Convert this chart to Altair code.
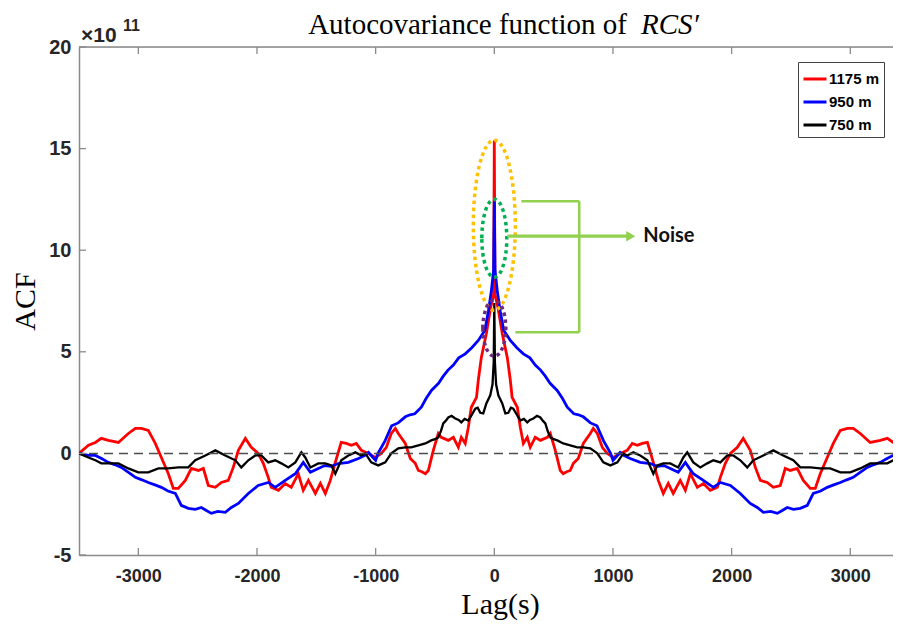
import altair as alt
import pandas as pd

# ---------------- data (positive-lag half; the ACF is symmetric about lag 0) ----------------
SERIES_NAMES = ["1175 m", "950 m", "750 m"]
SERIES_COLORS = ["#ff0000", "#0000ff", "#000000"]

RED_LAG = [0, 6, 30, 67, 110, 135, 150, 194, 219, 245, 278, 303, 345, 388, 447, 472, 514, 556, 581, 610,
           640, 666, 708, 750, 809, 834, 868, 910, 952, 1003, 1062, 1120, 1163, 1205, 1247, 1290, 1340,
           1382, 1424, 1466, 1508, 1567, 1610, 1652, 1711, 1762, 1820, 1880, 1905, 1947, 1990, 2048, 2098,
           2157, 2200, 2242, 2300, 2351, 2410, 2452, 2494, 2553, 2604, 2663, 2705, 2747, 2806, 2857, 2916,
           2975, 3025, 3084, 3168, 3253, 3312, 3362, 3420, 3500]
RED_VAL = [15.4, 7.8, 7.2, 5.9, 4.7, 3.6, 2.76, 2.27, 1.28, 0.49, 0.79, 0.3, 0.79, 0.64, 0.79, 0.98, 0.15,
           -0.84, -1.0, -0.9, -0.84, -0.49, -0.25, 0.49, 0.98, 1.23, 0.98, 0.3, 0.0, -0.2, 0.0, 0.15, 0.49,
           0.4, 0.49, 0.54, -0.44, -1.33, -1.97, -1.48, -1.97, -1.33, -1.82, -1.0, -1.67, -1.48, -1.82,
           -1.67, -1.18, -0.49, 0.0, 0.3, 0.74, 0.15, -0.69, -1.33, -1.43, -1.67, -1.58, -0.74, -0.84, -0.74,
           -1.33, -1.72, -1.72, -1.0, -0.2, 0.49, 1.13, 1.23, 1.23, 0.98, 0.54, 0.64, 0.74, 0.54, 0.4, 0.0]

BLUE_LAG = [0, 6, 25, 50, 80, 135, 190, 245, 300, 345, 390, 430, 470, 530, 575, 615, 670, 710, 750, 810,
            865, 920, 980, 1000, 1030, 1060, 1090, 1145, 1230, 1315, 1373, 1430, 1483, 1550, 1610, 1640,
            1677, 1762, 1846, 1905, 1990, 2073, 2157, 2216, 2267, 2330, 2385, 2430, 2469, 2520, 2579, 2638,
            2688, 2750, 2806, 2860, 2916, 2970, 3025, 3080, 3143, 3200, 3253, 3310, 3362, 3420, 3500]
BLUE_VAL = [12.4, 9.0, 8.0, 7.0, 6.05, 5.56, 5.2, 4.9, 4.7, 4.35, 4.1, 3.8, 3.45, 3.1, 2.7, 2.27, 1.95, 1.9,
            1.8, 1.5, 1.36, 0.63, 0.0, -0.34, -0.15, 0.05, -0.1, -0.25, -0.44, -0.5, -0.64, -0.6, -0.74,
            -0.93, -0.44, -0.7, -1.0, -1.33, -1.67, -1.43, -1.58, -1.97, -2.46, -2.66, -2.9, -2.85, -2.95,
            -2.8, -2.66, -2.75, -2.7, -2.56, -1.97, -1.85, -1.67, -1.55, -1.43, -1.3, -1.18, -0.95, -0.69,
            -0.55, -0.44, -0.25, -0.1, -0.1, 0.0]

BLACK_LAG = [0, 5, 15, 34, 67, 93, 118, 140, 160, 190, 219, 250, 278, 300, 329, 360, 388, 410, 430, 450,
             472, 500, 531, 581, 640, 700, 750, 809, 868, 919, 978, 1037, 1087, 1120, 1171, 1230, 1290, 1340,
             1373, 1424, 1483, 1550, 1593, 1626, 1677, 1736, 1795, 1846, 1905, 1964, 2014, 2073, 2132, 2182,
             2267, 2351, 2435, 2520, 2579, 2663, 2747, 2831, 2916, 3000, 3084, 3168, 3253, 3312, 3362, 3420,
             3500]
BLACK_VAL = [7.4, 4.5, 3.4, 2.86, 2.46, 1.97, 2.0, 2.25, 2.2, 1.9, 1.62, 1.7, 1.53, 1.65, 1.72, 1.85, 1.77,
             1.6, 1.48, 1.1, 0.79, 0.7, 0.64, 0.49, 0.4, 0.3, 0.3, 0.25, 0.0, -0.44, -0.59, -0.44, 0.0, -0.1,
             0.05, -0.1, -0.34, -1.0, -0.59, -0.49, -0.49, -0.69, -0.2, 0.05, -0.44, -0.69, -0.49, -0.34,
             -0.44, -0.1, -0.1, -0.34, -0.69, -0.34, -0.1, 0.15, -0.1, -0.34, -0.69, -0.69, -0.74, -0.74,
             -0.93, -0.93, -0.74, -0.49, -0.49, -0.49, -0.34, -0.2, 0.0]

X_TICKS = [-3000, -2000, -1000, 0, 1000, 2000, 3000]
Y_TICKS = [-5, 0, 5, 10, 15, 20]
X_DOMAIN = [-3500, 3360]
Y_DOMAIN = [-5, 20]

TITLE_MAIN = "Autocovariance function of"
TITLE_ITALIC = "RCS\u2032"
X_TITLE = "Lag(s)"
Y_TITLE = "ACF"
EXP_BASE = "\u00d710"
EXP_POWER = "11"

# annotation geometry (in data units)
ELLIPSE_CENTER_VAL = [11.23, 10.59, 6.16]
ELLIPSE_COLORS = ["#ffc000", "#00b050", "#6a2c82"]
BRACKET_LAG = [228, 177, 716, 110]
BRACKET_LAG2 = [716, 716, 716, 1140]
BRACKET_VAL = [12.41, 5.96, 5.96, 10.69]
BRACKET_VAL2 = [12.41, 5.96, 12.41, 10.69]
ARROW_HEAD_LAG = [1150]
ARROW_VAL = [10.69]
NOISE_LAG = [1256]
NOISE_TEXT = "Noise"


def mirror(lags, vals):
    full_l = [-x for x in reversed(lags[1:])] + list(lags)
    full_v = list(reversed(vals[1:])) + list(vals)
    return full_l, full_v


rows = []
for name, L, V in zip(SERIES_NAMES, [RED_LAG, BLUE_LAG, BLACK_LAG], [RED_VAL, BLUE_VAL, BLACK_VAL]):
    fl, fv = mirror(L, V)
    for i, (a, b) in enumerate(zip(fl, fv)):
        rows.append({"lag": a, "val": b, "series": name, "i": i})
df = pd.DataFrame(rows)

W, H = 814, 508
AX_GREY = "#8a8a8a"
TICK_FONT = "Liberation Sans, Arial"
SERIF = "Liberation Serif, Times New Roman, serif"

xs = alt.Scale(domain=X_DOMAIN, nice=False, zero=False)
ys = alt.Scale(domain=Y_DOMAIN, nice=False, zero=False)

x_axis = alt.Axis(values=X_TICKS, title=X_TITLE, labelExpr="'' + datum.value", labelPadding=12,
                  titlePadding=4, titleX=421, titleAlign="center")
y_axis = alt.Axis(values=Y_TICKS, title=Y_TITLE, labelExpr="'' + datum.value", labelPadding=8,
                  titlePadding=8)

color = alt.Color("series:N", scale=alt.Scale(domain=SERIES_NAMES, range=SERIES_COLORS),
                  sort=SERIES_NAMES,
                  legend=alt.Legend(title=None, orient="none", legendX=719, legendY=15,
                                    symbolType="stroke", symbolStrokeWidth=3, symbolSize=529,
                                    labelFont="Liberation Sans, Arial", labelFontSize=15,
                                    labelFontWeight="bold", labelColor="#000000", strokeColor="#444444",
                                    fillColor="white", padding=4, rowPadding=2, labelOffset=1,
                                    cornerRadius=0))

base = alt.Chart(df)


def series_line(name, width):
    return base.transform_filter(alt.datum.series == name).mark_line(strokeWidth=width, clip=True).encode(
        x=alt.X("lag:Q", scale=xs, axis=x_axis),
        y=alt.Y("val:Q", scale=ys, axis=y_axis),
        color=color,
        order="i:Q",
    )


lines = [series_line(SERIES_NAMES[0], 2.8), series_line(SERIES_NAMES[1], 2.8), series_line(SERIES_NAMES[2], 2.3)]

zero_line = alt.Chart(pd.DataFrame({"val": [0]})).mark_rule(
    strokeDash=[9, 6], color="#4d4d4d", strokeWidth=1.5).encode(y=alt.Y("val:Q", scale=ys))

top_border = alt.Chart(pd.DataFrame({"a": [0]})).mark_rule(color=AX_GREY, strokeWidth=1.5).encode(
    x=alt.value(0), x2=alt.value(W), y=alt.value(0))

xt = pd.DataFrame({"lag": X_TICKS})
yt = pd.DataFrame({"val": Y_TICKS})
bottom_ticks = alt.Chart(xt).mark_rule(color=AX_GREY, strokeWidth=1.3).encode(
    x=alt.X("lag:Q", scale=xs), y=alt.value(H), y2=alt.value(H - 7))
top_ticks = alt.Chart(xt).mark_rule(color=AX_GREY, strokeWidth=1.3).encode(
    x=alt.X("lag:Q", scale=xs), y=alt.value(0), y2=alt.value(7))
left_ticks = alt.Chart(yt).mark_rule(color=AX_GREY, strokeWidth=1.3).encode(
    y=alt.Y("val:Q", scale=ys), x=alt.value(0), x2=alt.value(7))

# dotted ellipses (custom symbol paths, centred at lag 0)
ell_paths = [
    "M -0.247 0 A 0.247 1 0 1 1 0.247 0 A 0.247 1 0 1 1 -0.247 0 Z",
    "M -0.32 0 A 0.32 1 0 1 1 0.32 0 A 0.32 1 0 1 1 -0.32 0 Z",
    "M -0.41 0 A 0.41 1 0 1 1 0.41 0 A 0.41 1 0 1 1 -0.41 0 Z",
]
ell_sizes = [28900, 6084, 3136]
ellipses = []
for v, c, p, s in zip(ELLIPSE_CENTER_VAL, ELLIPSE_COLORS, ell_paths, ell_sizes):
    ellipses.append(
        alt.Chart(pd.DataFrame({"lag": [0], "val": [v]})).mark_point(
            shape=p, size=s, filled=False, stroke=c, strokeWidth=3.5, strokeDash=[3.5, 3.5], opacity=1
        ).encode(x=alt.X("lag:Q", scale=xs), y=alt.Y("val:Q", scale=ys))
    )

seg_df = pd.DataFrame({"lag": BRACKET_LAG, "lag2": BRACKET_LAG2, "val": BRACKET_VAL, "val2": BRACKET_VAL2,
                       "w": [2.5, 2.5, 2.5, 3.2]})
bracket = alt.Chart(seg_df).mark_rule(color="#92d050").encode(
    x=alt.X("lag:Q", scale=xs), x2="lag2:Q",
    y=alt.Y("val:Q", scale=ys), y2="val2:Q",
    strokeWidth=alt.StrokeWidth("w:Q", scale=None))
arrow_head = alt.Chart(pd.DataFrame({"lag": ARROW_HEAD_LAG, "val": ARROW_VAL})).mark_point(
    shape="triangle-right", size=110, filled=True, color="#92d050", opacity=1).encode(
    x=alt.X("lag:Q", scale=xs), y=alt.Y("val:Q", scale=ys))
noise = alt.Chart(pd.DataFrame({"lag": NOISE_LAG, "val": ARROW_VAL, "t": [NOISE_TEXT]})).mark_text(
    align="left", baseline="middle", font="Lato, Open Sans, sans-serif", fontSize=20, fontWeight="bold",
    color="#111111").encode(
    x=alt.X("lag:Q", scale=xs), y=alt.Y("val:Q", scale=ys), text="t:N")

txt = pd.DataFrame({"a": [0]})
title1 = alt.Chart(txt).mark_text(text=TITLE_MAIN, align="right", baseline="alphabetic", font=SERIF,
                                  fontSize=29, color="#000000").encode(x=alt.value(548), y=alt.value(-13))
title2 = alt.Chart(txt).mark_text(text=TITLE_ITALIC, align="left", baseline="alphabetic", font=SERIF,
                                  fontSize=29, fontStyle="italic", color="#000000").encode(
    x=alt.value(562), y=alt.value(-13))
exp1 = alt.Chart(txt).mark_text(text=EXP_BASE, align="left", baseline="alphabetic",
                                font="Liberation Sans, Arial", fontSize=21, fontWeight="bold",
                                color="#262626").encode(x=alt.value(2), y=alt.value(-5))
exp2 = alt.Chart(txt).mark_text(text=EXP_POWER, align="left", baseline="alphabetic",
                                font="Liberation Sans, Arial", fontSize=16, fontWeight="bold",
                                color="#262626").encode(x=alt.value(44), y=alt.value(-16))

chart = alt.layer(
    *lines, zero_line, top_border, bottom_ticks, top_ticks, left_ticks,
    *ellipses, bracket, arrow_head, noise, title1, title2, exp1, exp2
).properties(
    width=W, height=H,
    autosize=alt.AutoSizeParams(type="none"),
    padding={"left": 71, "top": 39, "right": 0, "bottom": 67},
).configure_view(stroke=None).configure(background="white").configure_axis(
    ticks=False, grid=False, domainColor=AX_GREY, domainWidth=1.5,
    labelFont=TICK_FONT, labelFontWeight="bold", labelColor="#262626",
    titleFont=SERIF, titleFontSize=30, titleFontWeight="normal", titleColor="#000000",
).configure_axisX(labelFontSize=18).configure_axisY(labelFontSize=20)

chart.save("out.html", embed_options={"renderer": "svg", "actions": False})
